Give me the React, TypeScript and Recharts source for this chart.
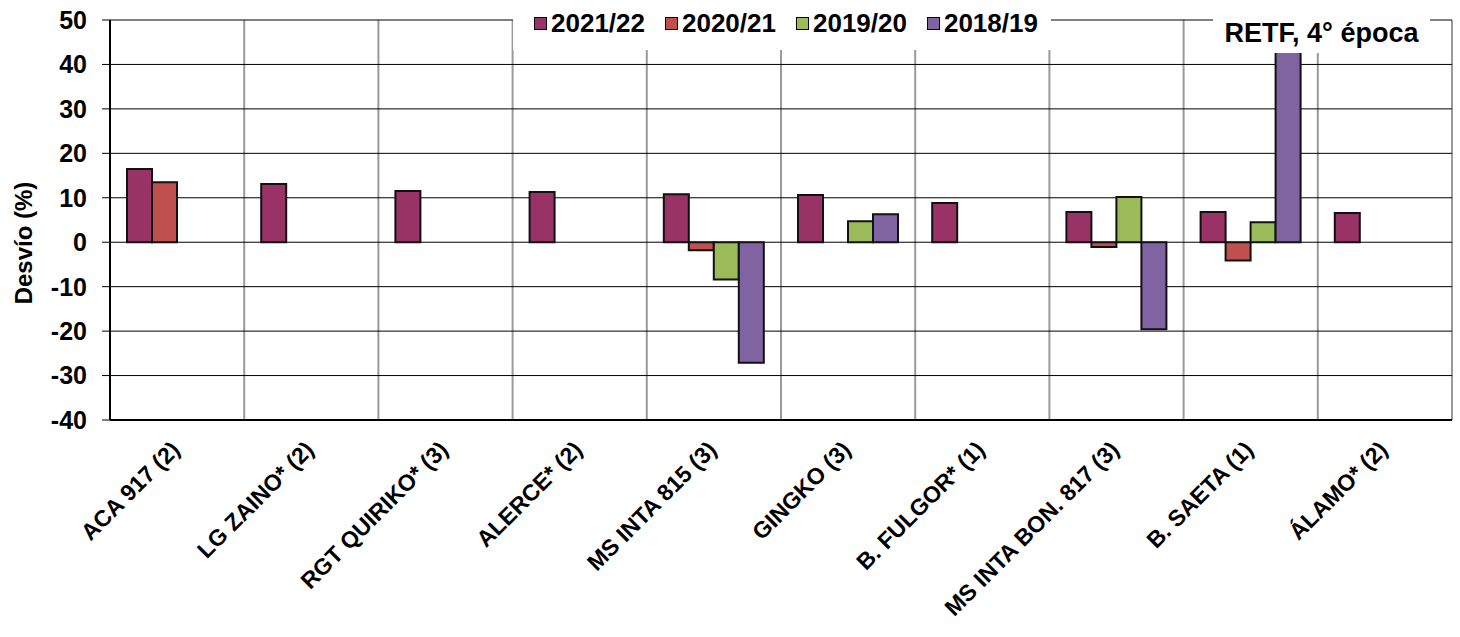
import React from 'react';
import { BarChart, Bar, XAxis, YAxis, CartesianGrid, Legend, Label } from 'recharts';

const categories = ['ACA 917 (2)', 'LG ZAINO* (2)', 'RGT QUIRIKO* (3)', 'ALERCE* (2)', 'MS INTA 815 (3)', 'GINGKO (3)', 'B. FULGOR* (1)', 'MS INTA BON. 817 (3)', 'B. SAETA (1)', 'ÁLAMO* (2)'];
const s2122: (number | null)[] = [16.5, 13.1, 11.5, 11.3, 10.8, 10.6, 8.8, 6.8, 6.8, 6.6];
const s2021: (number | null)[] = [13.5, null, null, null, -1.8, null, null, -1.1, -4.1, null];
const s1920: (number | null)[] = [null, null, null, null, -8.4, 4.7, null, 10.2, 4.5, null];
const s1819: (number | null)[] = [null, null, null, null, -27.1, 6.3, null, -19.6, 45, null];
const seriesNames = ['2021/22', '2020/21', '2019/20', '2018/19'];
const seriesColors = ['#993366', '#C0504D', '#9BBB59', '#8064A2'];
const yTicks = [-40, -30, -20, -10, 0, 10, 20, 30, 40, 50];
const title = 'RETF, 4° época';
const yLabel = 'Desvío (%)';

const data = categories.map((name, i) => ({
  name,
  s2122: s2122[i],
  s2021: s2021[i],
  s1920: s1920[i],
  s1819: s1819[i],
}));
const keys = ['s2122', 's2021', 's1920', 's1819'];

const FONT = '"Liberation Sans", Arial, sans-serif';

const CatTick = (props: any) => {
  const { x, y, payload } = props;
  return (
    <g transform={`translate(${x + 4},${y + 31})`}>
      <text x={0} y={0} textAnchor="end" transform="rotate(-45)" fontFamily={FONT} fontWeight="bold" fontSize={23} fill="#000">
        {payload.value}
      </text>
    </g>
  );
};

const LegendContent = () => (
  <div style={{ display: 'flex', alignItems: 'center', height: 50, paddingLeft: 21, boxSizing: 'border-box', background: '#fff' }}>
    {seriesNames.map((n, i) => (
      <div key={n} style={{ display: 'flex', alignItems: 'center', marginRight: 20, marginTop: -4 }}>
        <span style={{ display: 'inline-block', width: 11, height: 11, background: seriesColors[i], border: '1.5px solid #000', marginRight: 4 }} />
        <span style={{ fontFamily: FONT, fontWeight: 'bold', fontSize: 26, color: '#000', lineHeight: '28px' }}>{n}</span>
      </div>
    ))}
  </div>
);

const verticalGen = ({ offset }: any) => categories.concat(['']).map((_, i) => offset.left + (i * offset.width) / categories.length);

export default function App() {
  return (
    <div style={{ position: 'absolute', left: 0, top: 0, width: 1460, height: 637, background: '#fff' }}>
      <BarChart
        width={1460}
        height={637}
        data={data}
        margin={{ top: 20, right: 8, bottom: 0, left: 0 }}
        barCategoryGap={17}
        barGap={0}
      >
        <CartesianGrid horizontal={false} vertical verticalCoordinatesGenerator={verticalGen} stroke="#9a9a9a" strokeWidth={2} />
        <CartesianGrid horizontal vertical={false} stroke="#000" strokeWidth={1} />
        <XAxis
          dataKey="name"
          interval={0}
          height={217}
          tick={<CatTick />}
          tickLine={false}
          tickSize={0}
          tickMargin={0}
          axisLine={{ stroke: '#000', strokeWidth: 2 }}
        />
        <XAxis xAxisId="top" orientation="top" type="number" domain={[0, 1]} height={0} tick={false} tickLine={false} axisLine={{ stroke: '#000', strokeWidth: 2 }} />
        <YAxis
          width={110}
          domain={[-40, 50]}
          ticks={yTicks}
          interval={0}
          allowDataOverflow
          tickSize={8}
          tickMargin={15}
          tickLine={{ stroke: '#000', strokeWidth: 1 }}
          axisLine={{ stroke: '#000', strokeWidth: 2 }}
          tick={{ fontFamily: FONT, fontWeight: 'bold', fontSize: 25, fill: '#000' }}
        >
          <Label
            content={(p: any) => {
              const vb = p.viewBox;
              const cx = 32;
              const cy = vb.y + vb.height / 2 + 23;
              return (
                <text x={cx} y={cy} textAnchor="middle" transform={`rotate(-90, ${cx}, ${cy})`} fontFamily={FONT} fontWeight="bold" fontSize={24} fill="#000">
                  {yLabel}
                </text>
              );
            }}
          />
        </YAxis>
        <YAxis yAxisId="right" orientation="right" width={0} type="number" domain={[0, 1]} tick={false} tickLine={false} axisLine={{ stroke: '#000', strokeWidth: 2 }} />
        <Legend
          layout="horizontal"
          verticalAlign="middle"
          align="center"
          content={<LegendContent />}
          wrapperStyle={{ position: 'absolute', left: 513, top: 0, width: 538, height: 50 }}
        />
        {keys.map((k, i) => (
          <Bar key={k} dataKey={k} name={seriesNames[i]} fill={seriesColors[i]} stroke="#111" strokeWidth={2} isAnimationActive={false} />
        ))}
      </BarChart>
      <div
        style={{
          position: 'absolute',
          left: 1213,
          top: 0,
          width: 217,
          height: 53,
          background: '#fff',
          boxSizing: 'border-box',
          paddingTop: 18,
          textAlign: 'center',
          fontFamily: FONT,
          fontWeight: 'bold',
          fontSize: 27,
          lineHeight: '30px',
          color: '#000',
          whiteSpace: 'nowrap',
        }}
      >
        {title}
      </div>
    </div>
  );
}
